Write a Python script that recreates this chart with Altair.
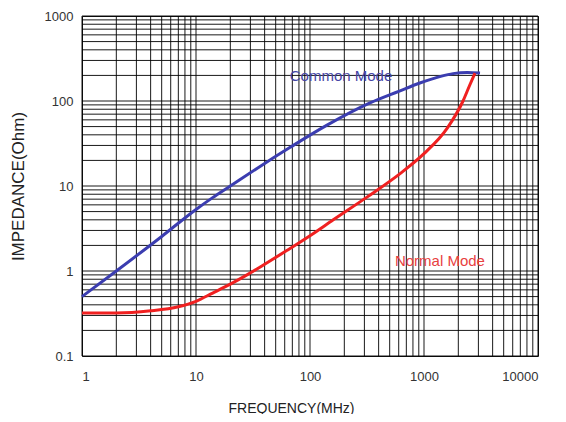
import altair as alt
import pandas as pd

# Common Mode curve (frequency MHz, impedance Ohm)
cm_freq = [1, 2, 5, 10, 14, 20, 34, 67, 141, 336, 600, 920, 1400, 1800, 2400, 3100]
cm_imp = [0.5, 1.0, 2.55, 5.3, 7.3, 10.0, 16.0, 28.5, 52, 95, 130, 163, 195, 210, 216, 213]

# Normal Mode curve
nm_freq = [1, 2, 4, 7, 10, 14, 20, 28, 40, 63, 100, 160, 316, 617, 1000, 1600, 2200, 2500, 2800]
nm_imp = [0.32, 0.32, 0.34, 0.38, 0.44, 0.55, 0.70, 0.9, 1.2, 1.75, 2.6, 4.0, 7.4, 14, 24, 48, 100, 150, 213]

x_ticks = [1, 10, 100, 1000, 10000]
x_labels = ["1", "10", "100", "1000", "10000"]
y_ticks = [0.1, 1, 10, 100, 1000]
y_labels = ["0.1", "1", "10", "100", "1000"]

x_grid = [m * 10 ** k for k in range(0, 4) for m in range(1, 10)] + [10000]
y_grid = [m * 10 ** k for k in range(-1, 3) for m in range(1, 10)] + [1000]

label_names = ["Common Mode", "Normal Mode"]
label_freq = [187, 1380]
label_imp = [197, 1.31]
label_colors = ["#4545a5", "#e84040"]

line_df = pd.DataFrame(
    {"freq": cm_freq + nm_freq,
     "imp": cm_imp + nm_imp,
     "mode": ["Common Mode"] * len(cm_freq) + ["Normal Mode"] * len(nm_freq)}
)
lab_df = pd.DataFrame({"freq": label_freq, "imp": label_imp, "text": label_names})


def label_expr(vals, labs):
    expr = "''"
    for v, l in reversed(list(zip(vals, labs))):
        expr = f"datum.value == {v} ? '{l}' : ({expr})"
    return expr


xscale = alt.Scale(type="log", domain=[1, 10000], nice=False)
yscale = alt.Scale(type="log", domain=[0.1, 1000], nice=False)

FONT = "Liberation Sans"

xaxis = alt.Axis(values=x_ticks, labelExpr=label_expr(x_ticks, x_labels), grid=False,
                 ticks=False, domain=False, labelFontSize=13, labelColor="#333333",
                 labelFont=FONT, labelPadding=14, title="FREQUENCY(MHz)",
                 titleFontSize=14, titleFont=FONT, titleFontWeight="normal",
                 titleColor="#222222", titleX=209, titleY=45, titleAnchor="middle")
yaxis = alt.Axis(values=y_ticks, labelExpr=label_expr(y_ticks, y_labels), grid=False,
                 ticks=False, domain=False, labelFontSize=13, labelColor="#333333",
                 labelFont=FONT, labelPadding=9, title="IMPEDANCE(Ohm)",
                 titleFontSize=17, titleFont=FONT, titleFontWeight="normal",
                 titleColor="#222222", titleX=-55, titleY=170, titleAnchor="middle")

vgrid = alt.Chart(pd.DataFrame({"g": x_grid})).mark_rule(
    color="#000000", strokeWidth=1, opacity=0.9
).encode(x=alt.X("g:Q", scale=xscale, axis=xaxis))

hgrid = alt.Chart(pd.DataFrame({"g": y_grid})).mark_rule(
    color="#000000", strokeWidth=1, opacity=0.9
).encode(y=alt.Y("g:Q", scale=yscale, axis=yaxis))

lines = alt.Chart(line_df).mark_line(strokeWidth=3, interpolate="monotone").encode(
    x=alt.X("freq:Q", scale=xscale),
    y=alt.Y("imp:Q", scale=yscale),
    color=alt.Color("mode:N", scale=alt.Scale(domain=label_names,
                                              range=["#3b3db0", "#f02020"]), legend=None),
    detail="mode:N",
)

texts = alt.Chart(lab_df).mark_text(fontSize=15, font=FONT).encode(
    x=alt.X("freq:Q", scale=xscale),
    y=alt.Y("imp:Q", scale=yscale),
    text="text:N",
    color=alt.Color("text:N", scale=alt.Scale(domain=label_names, range=label_colors), legend=None),
)

chart = alt.layer(vgrid, hgrid, lines, texts).resolve_scale(color="independent").properties(
    width=456, height=340,
    autosize=alt.AutoSizeParams(type="none"),
    padding={"left": 74, "top": 8, "right": 20, "bottom": 58},
    background="white",
).configure_view(stroke="#111111", strokeWidth=1)

chart.save("out.html", embed_options={"renderer": "svg", "actions": False})
